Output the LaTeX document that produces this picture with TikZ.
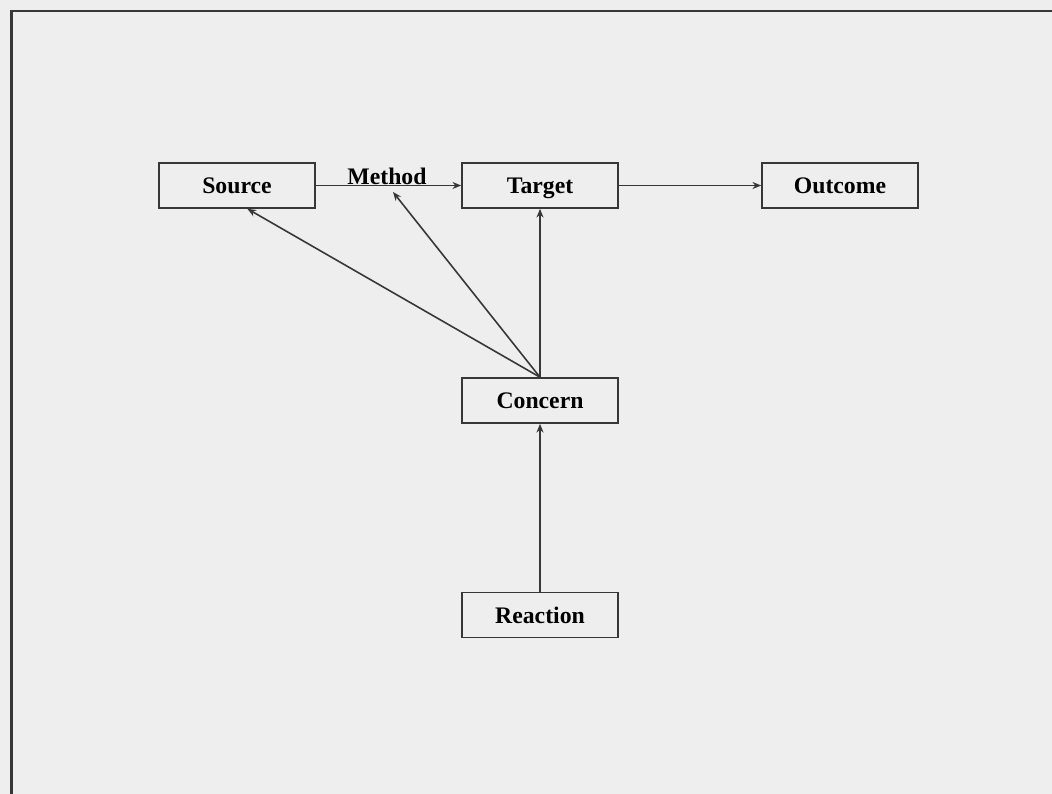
\documentclass[tikz,border=0pt]{standalone}
\usepackage{fontspec}
\setmainfont{Liberation Serif}
\usepackage{xcolor}
\usepackage{tikz}
\usetikzlibrary{
  arrows.meta,
  positioning,
  calc,
}

\definecolor{paper}{RGB}{238,238,238}
\definecolor{ink}{RGB}{55,55,55}

\begin{document}
\begin{tikzpicture}[
  x=0.02cm, y=-0.02cm,
  font=\fontsize{13.5}{15}\selectfont\bfseries,
  every node/.style={align=center},
  stage/.style={draw=ink, line width=0.9pt, minimum width=3.12cm, minimum height=0.9cm,
    inner sep=0pt, text height=11.6pt, text depth=2pt},
  link/.style={draw=ink, line width=0.9pt, -{Stealth[length=5pt,width=4pt]}},
]

\fill[paper] (0,0) rectangle (1052,794);
\useasboundingbox (0,0) rectangle (1052,794);
\draw[ink, line width=1.7pt] (11.5,794) -- (11.5,11) -- (1052,11);

\node[stage] (source)   at (237,185.5) {Source};
\node[stage] (target)   at (540,185.5) {Target};
\node[stage] (outcome)  at (840,185.5) {Outcome};
\node[stage] (concern)  at (540,400.5) {Concern};
\node[stage] (reaction) at (540,615)   {Reaction};

\node[anchor=base, inner sep=1pt] (method) at (387,185) {Method};
\coordinate (methodtip) at (393,192);

\draw[link] (source) -- (target);
\draw[link] (target) -- (outcome);
\draw[link] (reaction) -- (concern);
\draw[link] (concern.north) -- (target.south);
\draw[link] (concern.north) -- (source.-66);
\draw[link] (concern.north) -- (methodtip);

\end{tikzpicture}
\end{document}
